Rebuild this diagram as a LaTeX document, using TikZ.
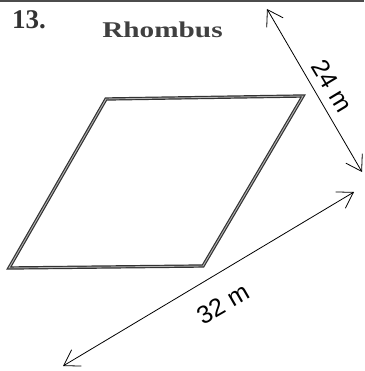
\documentclass[tikz,border=0pt]{standalone}
\usepackage{fontspec}
\setmainfont{Liberation Serif}
\setsansfont{Liberation Sans}
\newfontfamily\titlefont{Liberation Serif}[FakeStretch=1.3]
\usetikzlibrary{arrows.meta, positioning}

\begin{document}
\begin{tikzpicture}[
    x=1pt, y=-1pt,
    title/.style = {font=\titlefont\bfseries\fontsize{22.5}{24}\selectfont, text=black!75, inner sep=0pt},
    number/.style = {font=\bfseries\fontsize{27}{30}\selectfont, text=black!80, inner sep=0pt},
    rhomb/.style = {draw=black!80, line width=1.2pt, double=black!30, double distance=0.9pt, line join=miter},
    dim/.style = {<->, >={Straight Barb[length=15pt,width=19pt]}, line width=0.8pt},
    dimlabel/.style = {font=\sffamily\fontsize{25}{27}\selectfont, inner sep=0pt}
]
    \useasboundingbox (0,0) rectangle (364,371);

    % Frame edge
    \coordinate (edgeL) at (0,0.8);
    \coordinate (edgeR) at (364,0.8);
    \draw[black!70, line width=1.6pt] (edgeL) -- (edgeR);

    % Title
    \node[number, anchor=base west] (num) at (12,29) {13.};
    \node[title, anchor=base] (title) at (162.5,38) {Rhombus};

    % Rhombus
    \coordinate (tl) at (106,99);
    \coordinate (tr) at (303,96);
    \coordinate (br) at (203,266);
    \coordinate (bl) at (9,268);
    \draw[rhomb] (tl) -- (tr) -- (br) -- (bl) -- cycle;

    % Side
    \coordinate (sideA) at (267,9);
    \coordinate (sideB) at (362,172);
    \draw[dim] (sideA) -- (sideB);
    \node[dimlabel, rotate=-59] (side) at (332,86) {24 m};

    % Diagonal
    \coordinate (diagA) at (354,192);
    \coordinate (diagB) at (63,366);
    \draw[dim] (diagA) -- (diagB);
    \node[dimlabel, rotate=30] (diag) at (223,304) {32 m};

\end{tikzpicture}
\end{document}
